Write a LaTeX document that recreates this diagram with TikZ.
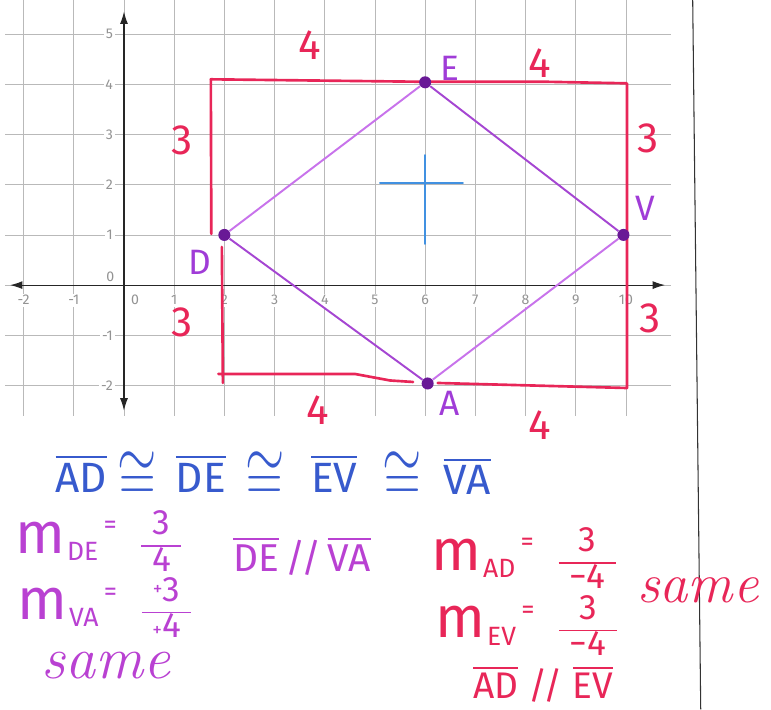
\documentclass[tikz,border=0pt]{standalone}
\usepackage{fontspec}
\usepackage{amsmath,amssymb}
\usetikzlibrary{arrows.meta}
\newfontfamily\hand{Fira Sans}

\definecolor{penred}{RGB}{232,38,88}
\definecolor{penviolet}{RGB}{165,70,210}
\definecolor{penlilac}{RGB}{200,115,235}
\definecolor{dotpurple}{RGB}{105,25,150}
\definecolor{labpurple}{RGB}{160,60,215}
\definecolor{penpurple}{RGB}{185,65,210}
\definecolor{penblue}{RGB}{55,90,205}
\definecolor{crossblue}{RGB}{65,145,225}

% slope written as m_{..} = num/den
\newcommand{\slope}[3]{%
  {\fontsize{33}{35}\selectfont m}%
  \hspace{1pt}\raisebox{-4pt}{\fontsize{15}{17}\selectfont #1}%
  \hspace{3pt}\raisebox{11pt}{\fontsize{15}{16}\selectfont =}%
  \hspace{14pt}%
  \raisebox{-1pt}{\fontsize{20}{22}\selectfont\setlength\arrayrulewidth{1pt}%
    \renewcommand\arraystretch{0.9}%
    \begin{tabular}{@{\hspace{6pt}}c@{\hspace{6pt}}}#2\\\hline #3\end{tabular}}}
\newcommand{\seg}[1]{$\overline{\mbox{#1}}$}
\newcommand{\congsign}{\scalebox{1.15}[1.6]{$\cong$}}

\begin{document}
\begin{tikzpicture}[
        gridline/.style={draw=gray!55, line width=0.35pt},
        axisline/.style={draw=black!85, line width=0.6pt, {Latex[length=7pt,width=4.5pt]}-{Latex[length=7pt,width=4.5pt]}},
        ticklabel/.style={fill=white, inner sep=1pt, text=gray!85, font=\hand\fontsize{8}{9}\selectfont},
        redpen/.style={draw=penred, line width=1.5pt, line cap=round, line join=round},
        violetpen/.style={draw=penviolet, line width=1.1pt},
        lilacpen/.style={draw=penlilac, line width=1.1pt},
        bluepen/.style={draw=crossblue, line width=1.1pt, line cap=round},
        vertex/.style={circle, fill=dotpurple, inner sep=0pt, minimum size=0.24cm},
        vlabel/.style={text=labpurple, font=\hand\fontsize{20}{22}\selectfont},
        redmark/.style={text=penred, font=\hand\fontsize{24}{26}\selectfont},
        bluetext/.style={text=penblue, font=\hand\fontsize{24}{26}\selectfont, inner sep=0pt},
        purpletext/.style={text=penpurple, font=\hand\fontsize{22}{24}\selectfont, inner sep=0pt},
        redtext/.style={text=penred, font=\hand\fontsize{21}{24}\selectfont, inner sep=0pt},
        cursive/.style={font=\itshape\fontsize{34}{36}\selectfont, inner sep=0pt}
    ]
    \useasboundingbox (-2.47,-8.45) rectangle (12.89,5.68);

    % Grid and axes
    \draw[gridline] (-2.37,-2.6) grid (10.9,5.68);
    \coordinate (xmin) at (-2.27,0);
    \coordinate (xmax) at (10.78,0);
    \coordinate (ymin) at (0,-2.5);
    \coordinate (ymax) at (0,5.45);
    \draw[axisline] (xmin) -- (xmax);
    \draw[axisline] (ymin) -- (ymax);
    \foreach \x in {-2,-1,1,2,3,4,5,6,7,8,9,10}
        \node[ticklabel] (tx\x) at (\x,-0.3) {\x};
    \foreach \y in {-2,-1,1,2,3,4,5}
        \node[ticklabel, anchor=east] (ty\y) at (-0.18,\y) {\y};
    \node[ticklabel] (tx0) at (0.22,-0.3) {0};
    \node[ticklabel] (ty0) at (-0.27,0.17) {0};

    % margin of the sheet
    \draw[black!80, line width=0.6pt] (11.33,5.68) -- (11.49,-8.45);

    % Red box round the rhombus
    \draw[redpen] (1.74,1.02) -- (1.73,4.1) -- (6,4.05) -- (8.45,4.05) -- (10.02,4.02) -- (10.02,-2.05) -- (6.25,-1.95);
    \draw[redpen] (1.95,0.76) -- (1.97,-1.95);
    \draw[redpen] (1.88,-1.77) -- (4.6,-1.77) -- (5.3,-1.9) -- (5.76,-1.93);
    \node[redmark] (top1) at (3.7,4.78) {4};
    \node[redmark] (top2) at (8.29,4.42) {4};
    \node[redmark] (lft1) at (1.16,2.89) {3};
    \node[redmark] (rgt1) at (10.44,2.93) {3};
    \node[redmark] (lft2) at (1.16,-0.74) {3};
    \node[redmark] (rgt2) at (10.48,-0.66) {3};
    \node[redmark] (bot1) at (3.86,-2.49) {4};
    \node[redmark] (bot2) at (8.29,-2.79) {4};

    % Blue cross
    \draw[bluepen] (6,2.59) -- (6,0.82);
    \draw[bluepen] (5.1,2.03) -- (6.75,2.03);

    % Rhombus DEVA
    \node[vertex] (D) at (2,1) {};
    \node[vertex] (E) at (6,4.04) {};
    \node[vertex] (V) at (9.95,1) {};
    \node[vertex] (A) at (6.05,-1.96) {};
    \draw[lilacpen] (D) -- (E);
    \draw[violetpen] (E) -- (V);
    \draw[lilacpen] (V) -- (A);
    \draw[violetpen] (A) -- (D);
    \node[vlabel] (labD) at (1.51,0.46) {D};
    \node[vlabel] (labE) at (6.49,4.32) {E};
    \node[vlabel] (labV) at (10.38,1.53) {V};
    \node[vlabel] (labA) at (6.49,-2.35) {A};

    % Congruent sides
    \node[bluetext, anchor=base] (sAD) at (-0.85,-4.13) {\seg{AD}};
    \node[bluetext, anchor=base] (c1) at (0.27,-4.28) {\congsign};
    \node[bluetext, anchor=base] (sDE) at (1.53,-4.13) {\seg{DE}};
    \node[bluetext, anchor=base] (c2) at (2.81,-4.28) {\congsign};
    \node[bluetext, anchor=base] (sEV) at (4.19,-4.13) {\seg{EV}};
    \node[bluetext, anchor=base] (c3) at (5.55,-4.28) {\congsign};
    \node[bluetext, anchor=base] (sVA) at (6.84,-4.18) {\seg{VA}};

    % Slopes
    \node[purpletext, anchor=base west] (mDE) at (-2.17,-5.34) {\slope{DE}{3}{4}};
    \node[purpletext, anchor=base west] (parDE) at (2.17,-5.70) {\seg{DE}\,//\,\seg{VA}};
    \node[purpletext, anchor=base west] (mVA) at (-2.13,-6.67) {\slope{VA}{\raisebox{3pt}{\fontsize{11}{12}\selectfont+}3}{\raisebox{1pt}{\fontsize{11}{12}\selectfont+}4}};
    \node[penpurple, cursive] (same1) at (-0.36,-7.57) {same};
    \node[redtext, anchor=base west] (mAD) at (6.12,-5.68) {\slope{AD}{3}{−4}};
    \node[redtext, anchor=base west] (mEV) at (6.2,-7.03) {\slope{EV}{3}{−4}};
    \node[penred, cursive, font=\itshape\fontsize{32}{34}\selectfont] (same2) at (11.43,-6.08) {same};
    \node[redtext, anchor=base west] (parAD) at (6.95,-8.24) {\seg{AD}\;//\;\seg{EV}};
\end{tikzpicture}
\end{document}
